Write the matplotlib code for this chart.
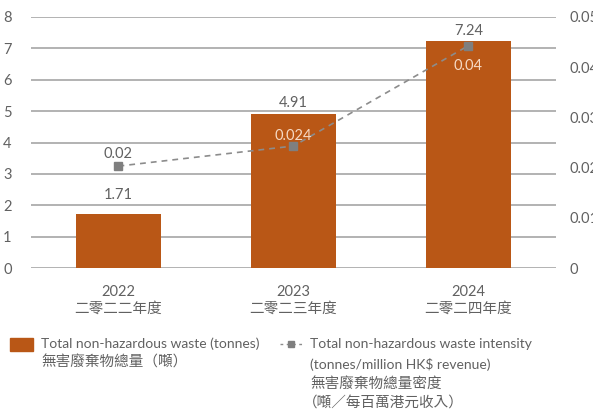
import matplotlib
matplotlib.use("Agg")
import matplotlib.pyplot as plt
from matplotlib.patches import Rectangle
from matplotlib.lines import Line2D

plt.rcParams['font.family'] = ['Lato', 'Noto Sans CJK TC', 'DejaVu Sans']

years = ["2022", "2023", "2024"]
years_zh = ["二零二二年度", "二零二三年度", "二零二四年度"]
waste = [1.71, 4.91, 7.24]
waste_labels = ["1.71", "4.91", "7.24"]
intensity = [0.0203, 0.0243, 0.0443]
intensity_labels = ["0.02", "0.024", "0.04"]
left_ticks = [0, 1, 2, 3, 4, 5, 6, 7, 8]
right_ticks = [0, 0.01, 0.02, 0.03, 0.04, 0.05]
right_tick_labels = ["0", "0.01", "0.02", "0.03", "0.04", "0.05"]

BAR = "#B95716"
GRID = "#A6A6A6"
TXT = "#616161"
MARK = "#7F7F7F"
FS = 10.5
FS_LAT = 10.0

W, H = 593, 415
fig = plt.figure(figsize=(W / 100, H / 100), dpi=100)
ax = fig.add_axes([31 / W, 1 - 268 / H, (556 - 31) / W, (268 - 17) / H])
ax2 = ax.twinx()

x = list(range(len(years)))
ax.bar(x, waste, width=0.486, color=BAR, zorder=2)
ax.set_xlim(-0.5, 2.5)
ax.set_ylim(0, 8)
ax.set_yticks(left_ticks)
ax.yaxis.grid(True, color=GRID, linewidth=1.2, zorder=0)
ax.set_axisbelow(True)
for s in ax.spines.values():
    s.set_visible(False)
for s in ax2.spines.values():
    s.set_visible(False)
ax.tick_params(axis='y', length=0, pad=14, labelsize=FS, labelcolor=TXT)
ax.tick_params(axis='x', length=0, pad=12, labelsize=FS, labelcolor=TXT)
ax.set_xticks(x)
ax.set_xticklabels([f"{a}\n{b}" for a, b in zip(years, years_zh)], linespacing=1.3)

ax2.set_ylim(0, 0.05)
ax2.set_yticks(right_ticks)
ax2.set_yticklabels(right_tick_labels)
ax2.tick_params(axis='y', length=0, pad=10, labelsize=FS, labelcolor=TXT)
ax2.plot(x, intensity, linestyle=(0, (3.5, 3)), color="#8C8C8C", linewidth=1.2,
         marker='s', markersize=6, markerfacecolor=MARK, markeredgecolor=MARK, zorder=3)

# bar labels
bar_offsets = [13.7, 8.0, 7.2]
for xi, v, lab, off in zip(x, waste, waste_labels, bar_offsets):
    ax.annotate(lab, (xi, v), xytext=(0, off), textcoords='offset points',
                ha='center', va='center', fontsize=FS, color=TXT)

# intensity labels
inside = [False, True, True]
offsets = [8.6, 7.2, -14.4]
for xi, v, lab, ins, off in zip(x, intensity, intensity_labels, inside, offsets):
    ax2.annotate(lab, (xi, v), xytext=(0, off), textcoords='offset points',
                 ha='center', va='center', fontsize=FS,
                 color="#F6D9C4" if ins else TXT)

# legend
fig.patches.append(Rectangle((10 / W, 1 - 351 / H), 23 / W, 13 / H,
                             transform=fig.transFigure, color=BAR))
fig.text(41 / W, 1 - 344 / H, "Total non-hazardous waste (tonnes)", fontsize=FS_LAT,
         color=TXT, va='center', ha='left')
fig.text(41 / W, 1 - 363 / H, "無害廢棄物總量（噸）", fontsize=FS,
         color=TXT, va='center', ha='left')

fig.lines.append(Line2D([280 / W, 302 / W], [1 - 344 / H, 1 - 344 / H],
                        transform=fig.transFigure, linestyle=(0, (2, 2.5)),
                        color="#8C8C8C", linewidth=1.0))
fig.lines.append(Line2D([291 / W], [1 - 344 / H], transform=fig.transFigure,
                        marker='s', markersize=5, color=MARK, linestyle='none'))
legend2 = ["Total non-hazardous waste intensity",
           "(tonnes/million HK$ revenue)",
           "無害廢棄物總量密度",
           "（噸／每百萬港元收入）"]
legend2_fs = [FS_LAT, FS_LAT, FS, FS]
ys = [344, 364, 384, 403]
for t, yy, fs in zip(legend2, ys, legend2_fs):
    fig.text(310 / W if not t.startswith("（") else 303 / W, 1 - yy / H, t,
             fontsize=fs, color=TXT, va='center', ha='left')

fig.savefig("out.png", dpi=100)
